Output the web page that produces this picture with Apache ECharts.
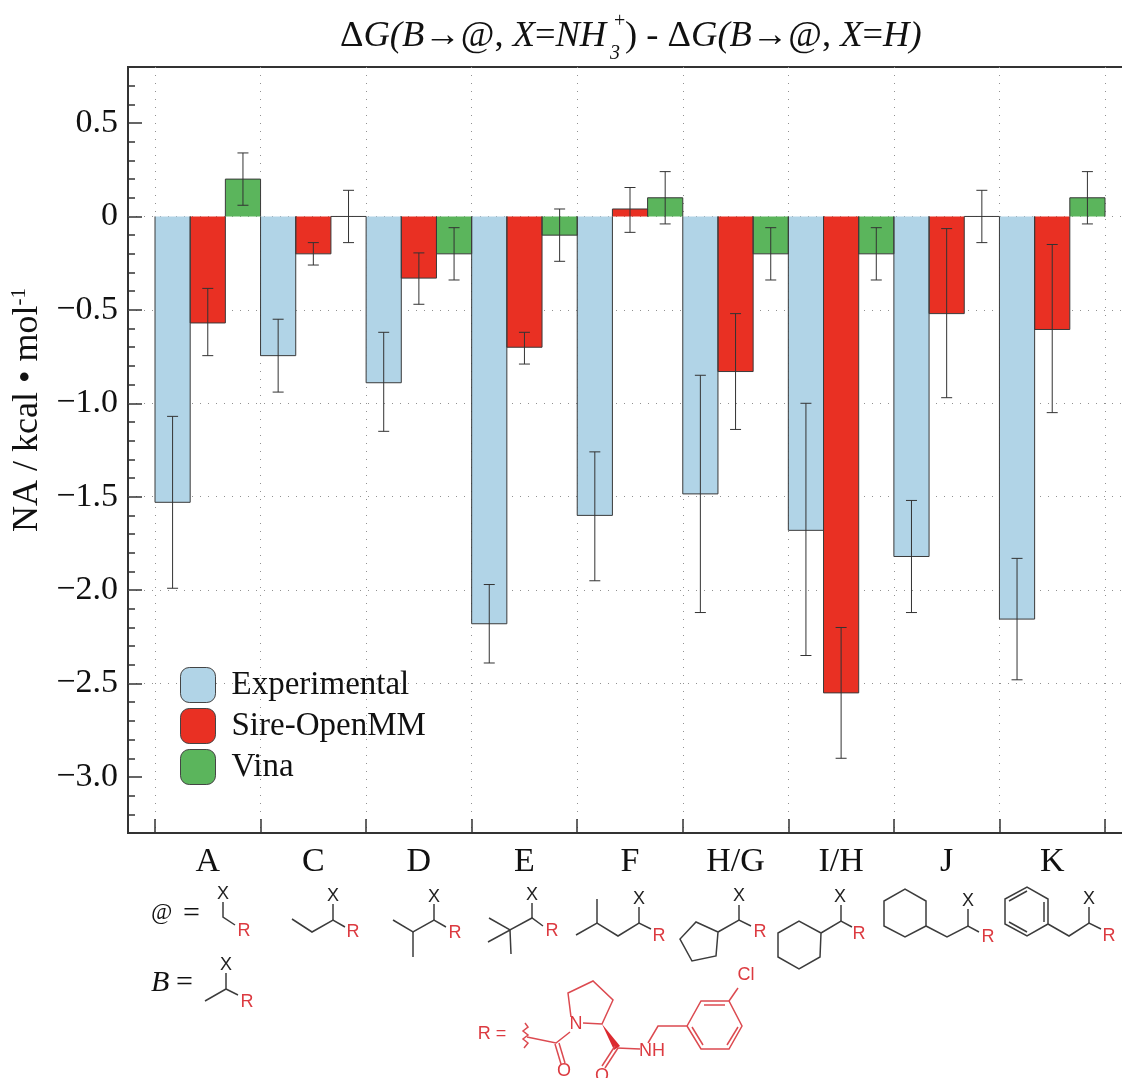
<!DOCTYPE html>
<html>
<head>
<meta charset="utf-8">
<title>chart</title>
<script src="https://cdn.jsdelivr.net/npm/echarts@6/dist/echarts.min.js"></script>
<style>
  html, body { margin: 0; padding: 0; background: #fff; }
  #main { width: 1122px; height: 1078px; }
</style>
</head>
<body>
<div id="main"></div>
<script>
const categories = ['A', 'C', 'D', 'E', 'F', 'H/G', 'I/H', 'J', 'K']
const seriesNames = ['Experimental', 'Sire-OpenMM', 'Vina']
const yTicks = [-3, -2.5, -2, -1.5, -1, -0.5, 0, 0.5]

const experimental = [-1.53, -0.745, -0.89, -2.18, -1.60, -1.485, -1.68, -1.82, -2.155]
const experimentalLow = [-1.99, -0.94, -1.15, -2.39, -1.95, -2.12, -2.35, -2.12, -2.48]
const experimentalHigh = [-1.07, -0.55, -0.62, -1.97, -1.26, -0.85, -1.00, -1.52, -1.83]

const sire = [-0.57, -0.20, -0.33, -0.70, 0.04, -0.83, -2.55, -0.52, -0.605]
const sireLow = [-0.745, -0.26, -0.47, -0.79, -0.085, -1.14, -2.90, -0.97, -1.05]
const sireHigh = [-0.385, -0.14, -0.195, -0.62, 0.155, -0.52, -2.20, -0.065, -0.15]

const vina = [0.20, 0, -0.20, -0.10, 0.10, -0.20, -0.20, 0, 0.10]
const vinaLow = [0.06, -0.14, -0.34, -0.24, -0.04, -0.34, -0.34, -0.14, -0.04]
const vinaHigh = [0.34, 0.14, -0.06, 0.04, 0.24, -0.06, -0.06, 0.14, 0.24]

const colors = ['#b1d4e7', '#e93023', '#5bb55c']
const serif = '"Liberation Serif", serif'
const sans = '"Liberation Sans", sans-serif'
const inkDark = '#3c3c3c'
const inkRed = '#dc4a50'

// skeletal formulas under the axis
const blackBonds = [
  [[223, 902], [223, 917], [235, 925]],
  [[292, 919], [312, 932], [333, 920], [345, 927]], [[333, 904], [333, 920]],
  [[393, 920], [413, 932], [434, 920], [446, 927]], [[434, 904], [434, 920]], [[413, 932], [413, 957]],
  [[489, 918], [510, 930], [532, 918], [543, 926]], [[532, 903], [532, 918]], [[488, 942], [510, 930], [511, 954]],
  [[576, 935], [597, 923], [618, 936], [639, 923], [651, 929]], [[597, 899], [597, 923]], [[639, 907], [639, 923]],
  [[718, 932], [739, 920], [751, 926]], [[739, 905], [739, 920]],
  [[718, 932], [696, 922], [680, 939], [692, 961], [716, 956], [718, 932]],
  [[821, 933], [841, 921], [852, 927]], [[841, 905], [841, 921]],
  [[821, 933], [799, 921], [778, 933], [778, 957], [799, 969], [820, 957], [821, 933]],
  [[926, 926], [947, 937], [968, 926], [979, 932]], [[968, 909], [968, 926]],
  [[926, 926], [926, 901], [905, 889], [884, 901], [884, 926], [905, 937], [926, 926]],
  [[1048, 924], [1069, 936], [1089, 923], [1101, 929]], [[1089, 907], [1089, 923]],
  [[1048, 924], [1048, 899], [1027, 887], [1005, 899], [1005, 924], [1027, 936], [1048, 924]],
  [[1044, 902], [1044, 922]], [[1027, 891], [1009, 901]], [[1027, 932], [1009, 922]],
  [[226, 973], [226, 989], [205, 1001]], [[226, 989], [238, 995]]
]
const redBonds = [
  [[525, 1023], [528, 1027], [523, 1031], [528, 1035], [523, 1039], [528, 1043], [524, 1048]],
  [[527, 1037], [556, 1043], [570, 1032]],
  [[555, 1044], [561, 1064]], [[559, 1043], [565, 1063]],
  [[571, 1017], [568, 993], [593, 981], [613, 1000], [602, 1024], [583, 1023]],
  [[618, 1048], [605, 1068]], [[615, 1046], [602, 1066]],
  [[617, 1048], [640, 1049]],
  [[648, 1043], [658, 1026], [687, 1026], [701, 1001], [729, 1001], [742, 1026], [729, 1049], [701, 1049], [687, 1026]],
  [[704, 1005], [725, 1005]], [[738, 1027], [727, 1045]], [[703, 1045], [692, 1027]],
  [[729, 1001], [738, 988]]
]
const blackLabels = [
  ['X', 223, 894], ['X', 333, 896], ['X', 434, 897], ['X', 532, 895], ['X', 639, 899],
  ['X', 739, 896], ['X', 840, 897], ['X', 968, 901], ['X', 1089, 899], ['X', 226, 965]
]
const redLabels = [
  ['R', 244, 931], ['R', 353, 932], ['R', 455, 933], ['R', 552, 931], ['R', 659, 936],
  ['R', 760, 932], ['R', 859, 934], ['R', 988, 937], ['R', 1109, 936], ['R', 247, 1002],
  ['N', 576, 1024], ['O', 564, 1071], ['O', 602, 1076], ['NH', 652, 1051], ['Cl', 746, 975], ['R =', 492, 1034]
]

const bondGraphics = (bonds, color) => bonds.map(points => ({
  type: 'polyline',
  shape: { points },
  style: { stroke: color, lineWidth: 1.5, fill: null }
}))
const labelGraphics = (labels, color, size) => labels.map(([text, x, y]) => ({
  type: 'text',
  style: { text, x, y, fill: color, font: size + 'px ' + sans, align: 'center', verticalAlign: 'middle' }
}))

const titleRich = {
  u: { fontFamily: serif, fontSize: 36.5, fill: '#111', color: '#111' },
  i: { fontFamily: serif, fontSize: 36.5, fontStyle: 'italic', fill: '#111', color: '#111' }
}
const titleText = (text, x, y, rich) => ({
  type: 'text',
  style: { text, x, y, rich, verticalAlign: 'middle' }
})

const graphicElements = [
  titleText('{u|Δ}{i|G(B}{u|→@, }{i|X}{u|=}{i|NH}', 340, 36, titleRich),
  titleText('{u|) - Δ}{i|G(B}{u|→@, }{i|X}{u|=}{i|H}{i|)}', 625, 36, titleRich),
  { type: 'text', style: { text: '+', x: 614, y: 22, fill: '#111', font: '20px ' + serif, verticalAlign: 'middle' } },
  { type: 'text', style: { text: '3', x: 610, y: 54, fill: '#111', font: 'italic 20px ' + serif, verticalAlign: 'middle' } },
  { type: 'text', style: { text: '@', x: 151, y: 913, fill: '#111', font: 'italic 23px ' + serif, verticalAlign: 'middle' } },
  { type: 'text', style: { text: '=', x: 183, y: 914, fill: '#111', font: '30px ' + serif, verticalAlign: 'middle' } },
  { type: 'text', style: { text: 'B', x: 151, y: 983, fill: '#111', font: 'italic 30px ' + serif, verticalAlign: 'middle' } },
  { type: 'text', style: { text: '=', x: 176, y: 983, fill: '#111', font: '30px ' + serif, verticalAlign: 'middle' } },
  {
    type: 'polygon',
    shape: { points: [[602, 1024], [620, 1046], [614, 1050]] },
    style: { fill: '#dc2a30' }
  },
  ...bondGraphics(blackBonds, inkDark),
  ...bondGraphics(redBonds, inkRed),
  ...labelGraphics(blackLabels, '#222', 18),
  ...labelGraphics(redLabels, '#dc3a40', 18)
]

const myChart = echarts.init(document.getElementById('main'), null, { renderer: 'canvas' })

// bar outlines (no line along the zero side) and error bars
const renderDetail = (params, api) => {
  const cat = api.value(0)
  const s = api.value(1)
  const band = api.size([1, 0])[0]
  const barW = band / 3
  const centre = api.coord([cat, 0])[0] + (s - 1) * barW
  const y0 = api.coord([cat, 0])[1]
  const yv = api.coord([cat, api.value(2)])[1]
  const yLow = api.coord([cat, api.value(3)])[1]
  const yHigh = api.coord([cat, api.value(4)])[1]
  const line = { stroke: '#3a3a3a', lineWidth: 1, fill: null }
  const errLine = { stroke: '#333', lineWidth: 1, fill: null }
  return {
    type: 'group',
    children: [
      {
        type: 'polyline',
        shape: { points: [[centre - barW / 2, y0], [centre - barW / 2, yv], [centre + barW / 2, yv], [centre + barW / 2, y0]] },
        style: line
      },
      { type: 'line', shape: { x1: centre, y1: yLow, x2: centre, y2: yHigh }, style: errLine },
      { type: 'line', shape: { x1: centre - 5.5, y1: yLow, x2: centre + 5.5, y2: yLow }, style: errLine },
      { type: 'line', shape: { x1: centre - 5.5, y1: yHigh, x2: centre + 5.5, y2: yHigh }, style: errLine }
    ]
  }
}

const detailRows = []
;[[experimental, experimentalLow, experimentalHigh], [sire, sireLow, sireHigh], [vina, vinaLow, vinaHigh]].forEach((group, s) => {
  categories.forEach((c, i) => {
    detailRows.push([i, s, group[0][i], group[1][i], group[2][i]])
  })
})

const yMin = -3.3
const yMax = 0.8

myChart.setOption({
  backgroundColor: '#fff',
  animation: false,
  textStyle: { fontFamily: serif },
  legend: {
    data: seriesNames,
    orient: 'vertical',
    left: 180,
    top: 667,
    icon: 'roundRect',
    itemWidth: 35,
    itemHeight: 35,
    itemGap: 5,
    padding: 0,
    itemStyle: { borderColor: '#444', borderWidth: 1 },
    textStyle: { fontFamily: serif, fontSize: 33, color: '#111', padding: [2, 0, 0, 11] }
  },
  grid: [
    { left: 155, top: 67, width: 950, height: 766, outerBoundsMode: 'none' },
    { left: 128, top: 67, right: -30, height: 766, outerBoundsMode: 'none', show: true, borderColor: '#333', borderWidth: 2, backgroundColor: 'transparent' }
  ],
  xAxis: [
    {
      type: 'category',
      gridIndex: 0,
      data: categories,
      axisLine: { show: false, onZero: false },
      axisTick: { show: true, inside: true, length: 14, interval: 0, lineStyle: { color: '#333', width: 1.5 } },
      axisLabel: { interval: 0, fontFamily: serif, fontSize: 34, color: '#111', margin: 12 },
      splitLine: { show: true, interval: 0, lineStyle: { color: '#919191', type: [1, 7], width: 1 } }
    },
    { type: 'value', gridIndex: 1, show: false, min: 0, max: 1 }
  ],
  yAxis: [
    { type: 'value', gridIndex: 0, show: false, min: yMin, max: yMax, splitLine: { show: false } },
    {
      // labelled axis: major ticks, labels and dotted lines at yTicks
      type: 'value',
      gridIndex: 1,
      position: 'left',
      min: yMin,
      max: yMax,
      interval: 0.1,
      name: '{a|NA / kcal • mol}{s|-1}',
      nameLocation: 'middle',
      nameGap: 81,
      nameTextStyle: {
        padding: [0, 0, 0, 80],
        rich: {
          a: { fontFamily: serif, fontSize: 36, color: '#111' },
          s: { fontFamily: serif, fontSize: 21, color: '#111', verticalAlign: 'top' }
        }
      },
      axisLine: { show: false },
      axisTick: { show: true, inside: true, length: 14, customValues: yTicks, lineStyle: { color: '#333', width: 1.5 } },
      axisLabel: {
        customValues: yTicks,
        margin: 10,
        padding: [4, 0, 0, 0],
        fontFamily: serif,
        fontSize: 34,
        color: '#111',
        formatter: v => (Math.abs(v) < 1e-9 ? '0' : v.toFixed(1).replace('-', '−'))
      },
      splitLine: { show: true, showMinLine: false, showMaxLine: false, lineStyle: { color: '#919191', type: [1, 7], width: 1 } }
    },
    {
      // unlabelled axis for the small ticks every 0.1
      type: 'value',
      gridIndex: 1,
      position: 'left',
      min: yMin,
      max: yMax,
      interval: 0.1,
      axisLine: { show: false },
      axisTick: { show: true, inside: true, length: 7, lineStyle: { color: '#333', width: 1.5 } },
      axisLabel: { show: false },
      splitLine: { show: false }
    }
  ],
  series: [
    ...[experimental, sire, vina].map((values, s) => ({
      name: seriesNames[s],
      type: 'bar',
      xAxisIndex: 0,
      yAxisIndex: 0,
      data: values,
      barGap: 0,
      barCategoryGap: 0,
      itemStyle: { color: colors[s] },
      z: 2
    })),
    {
      type: 'custom',
      xAxisIndex: 0,
      yAxisIndex: 0,
      data: detailRows,
      encode: { x: 0, y: 2 },
      renderItem: renderDetail,
      clip: false,
      z: 3
    }
  ],
  graphic: { elements: graphicElements }
})
</script>
</body>
</html>
